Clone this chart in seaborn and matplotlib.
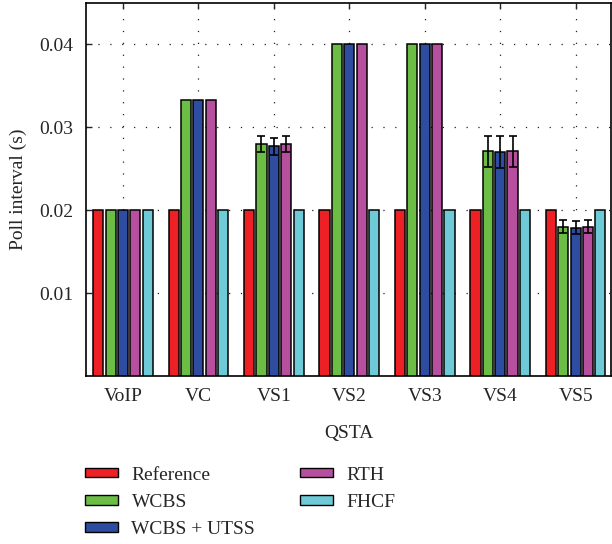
import numpy as np
import pandas as pd
import matplotlib
matplotlib.use('Agg')
import matplotlib.pyplot as plt
import seaborn as sns

# data
qsta = ['VoIP', 'VC', 'VS1', 'VS2', 'VS3', 'VS4', 'VS5']
schemes = ['Reference', 'WCBS', 'WCBS + UTSS', 'RTH', 'FHCF']
reference = [0.020, 0.020, 0.020, 0.020, 0.020, 0.020, 0.020]
wcbs = [0.020, 0.0333, 0.0280, 0.040, 0.040, 0.0271, 0.0180]
wcbs_utss = [0.020, 0.0333, 0.0277, 0.040, 0.040, 0.0270, 0.0179]
rth = [0.020, 0.0333, 0.0280, 0.040, 0.040, 0.0271, 0.0180]
fhcf = [0.020, 0.020, 0.020, 0.020, 0.020, 0.020, 0.020]
wcbs_err = [0, 0, 0.0010, 0, 0, 0.0019, 0.0008]
wcbs_utss_err = [0, 0, 0.0010, 0, 0, 0.0019, 0.0008]
rth_err = [0, 0, 0.0010, 0, 0, 0.0019, 0.0008]
colors = ['#ED2026', '#6CBD45', '#2E4DA0', '#B64F9D', '#6FCAD8']

values = [reference, wcbs, wcbs_utss, rth, fhcf]
errors = [None, wcbs_err, wcbs_utss_err, rth_err, None]

df = pd.DataFrame({
    'QSTA': qsta * len(schemes),
    'scheme': np.repeat(schemes, len(qsta)),
    'value': np.concatenate(values),
})

sns.set_style('white')
plt.rcParams['font.family'] = ['Liberation Serif', 'DejaVu Serif']
plt.rcParams['font.size'] = 14

fig = plt.figure(figsize=(6.12, 5.44), dpi=100)
ax = fig.add_axes([0.1405, 0.309, 0.858, 0.6855])

sns.barplot(data=df, x='QSTA', y='value', hue='scheme', hue_order=schemes,
            palette=colors, saturation=1, errorbar=None, width=0.82, gap=0.18,
            edgecolor='black', linewidth=1.1, ax=ax, zorder=3)

# error bars on top of the bars
for cont, err in zip(ax.containers, errors):
    if err is None:
        continue
    xs, ys, es = [], [], []
    for bar, e in zip(cont, err):
        if e > 0:
            xs.append(bar.get_x() + bar.get_width() / 2)
            ys.append(bar.get_height())
            es.append(e)
    ax.errorbar(xs, ys, yerr=es, fmt='none', ecolor='black', elinewidth=1.2,
                capsize=3, capthick=1.2, zorder=4)

ax.set_ylim(0, 0.045)
ax.set_xlim(-0.49, 6.47)
ax.set_yticks([0.01, 0.02, 0.03, 0.04])
ax.set_yticklabels(['0.01', '0.02', '0.03', '0.04'])
ax.set_xlabel('QSTA', fontsize=14, labelpad=14)
ax.set_ylabel('Poll interval (s)', fontsize=14, labelpad=9)
ax.grid(True, color='#222222', linestyle=(0, (1, 8.5)), linewidth=0.9, zorder=0)
ax.set_axisbelow(True)
ax.tick_params(direction='in', top=True, left=True, bottom=True, length=4,
               width=1, labelsize=14, pad=9)
for s in ax.spines.values():
    s.set_linewidth(1.2)
    s.set_color('black')

ax.get_legend().remove()
handles = [plt.Rectangle((0, 0), 1, 1, facecolor=c, edgecolor='black', linewidth=1)
           for c in colors]
fig.legend(handles, schemes, loc='upper left', bbox_to_anchor=(0.11, 0.174),
           ncol=2, frameon=False, fontsize=14, handlelength=1.7,
           handleheight=0.35, labelspacing=0.52, columnspacing=2.3,
           handletextpad=0.7)

fig.savefig('out.png', dpi=100)
